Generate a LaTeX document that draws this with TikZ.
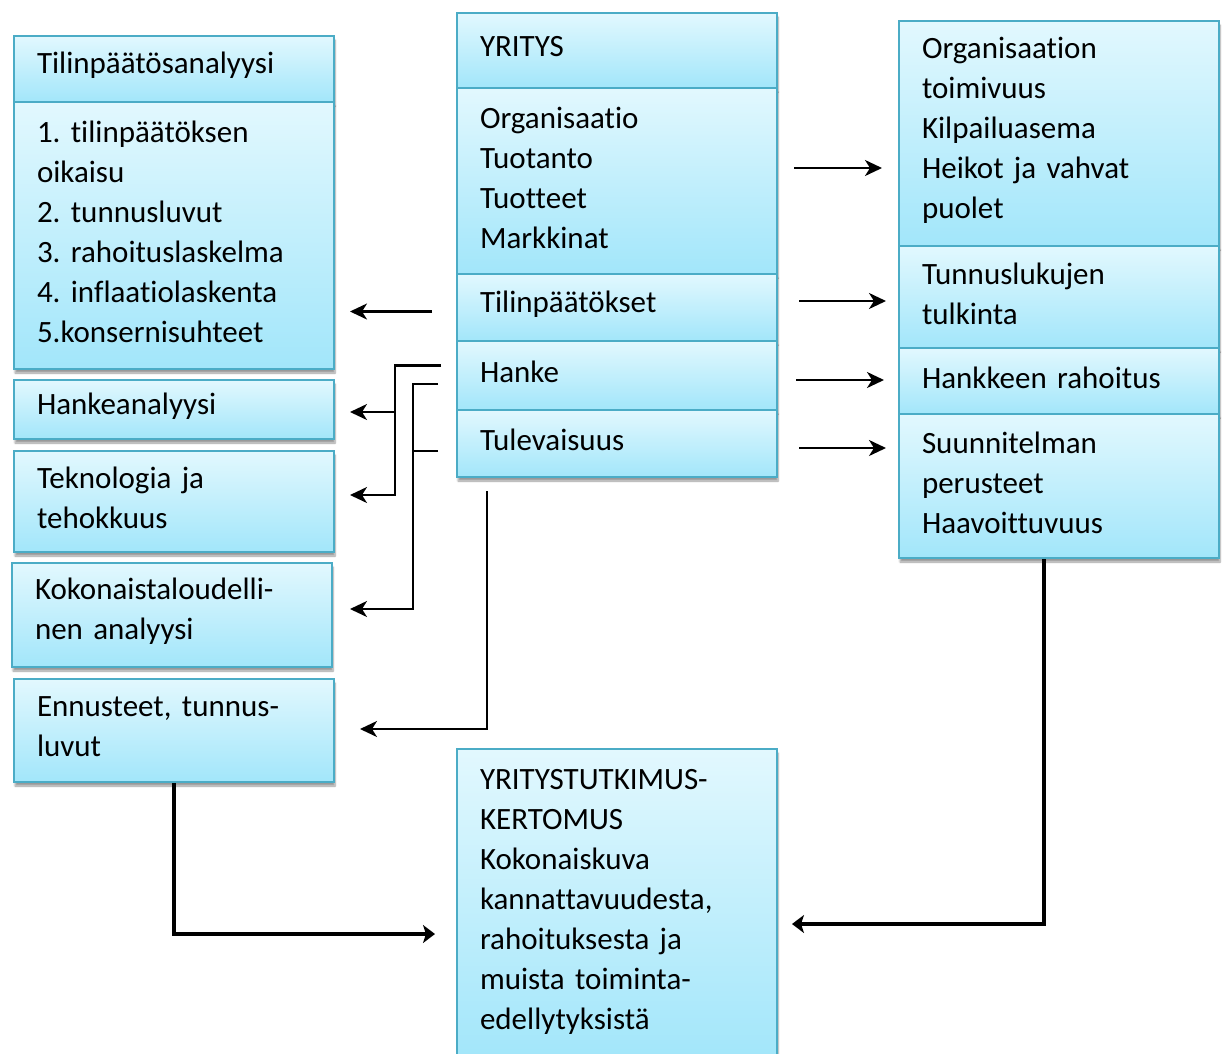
\documentclass[tikz,border=0pt]{standalone}
\usepackage{fontspec}
\setmainfont{Carlito}[Ligatures={NoCommon,TeX}]
\usetikzlibrary{arrows.meta, positioning, shadows.blur}
\definecolor{cellline}{HTML}{4BACC6}
\definecolor{celltop}{HTML}{E2F8FE}
\definecolor{cellbot}{HTML}{A2E6FA}

\begin{document}
\begin{tikzpicture}[
    x=1pt, y=-1pt,
    cell/.style={rectangle, draw=cellline, line width=2pt, top color=celltop, bottom color=cellbot,
      align=left, text width=274pt, inner xsep=23pt, inner ysep=0pt, anchor=north west,
      font=\fontsize{31}{40}\selectfont\frenchspacing,
      execute at end node={\endgraf\kern7pt},
      blur shadow={shadow xshift=1pt, shadow yshift=-4pt, shadow blur steps=6, shadow opacity=40}},
    stack/.style={cell, below=-2pt of #1},
    wire/.style={line width=2.2pt},
    arr/.style={wire, -{Stealth[length=17pt, width=16pt, inset=5pt]}},
    bigarr/.style={line width=4.5pt, -{Stealth[length=12pt, width=18pt, inset=3pt]}}
  ]
  \useasboundingbox (0,0) rectangle (1224,1053);

  % left column
  \node[cell, minimum height=66pt] (tpa) at (13,35) {Tilinpäätösanalyysi};
  \node[stack=tpa, minimum height=267pt] (tpaBody) {1. tilinpäätöksen\\oikaisu\\2. tunnusluvut\\3. rahoituslaskelma\\4. inflaatiolaskenta\\5.konsernisuhteet};
  \node[cell, minimum height=59pt] (hank) at (13,379) {Hankeanalyysi};
  \node[cell, minimum height=101pt] (tek) at (13,450) {Teknologia ja\\tehokkuus};
  \node[cell, minimum height=104pt] (koko) at (11,562) {Kokonaistaloudelli-\\nen analyysi};
  \node[cell, minimum height=103pt] (enn) at (13,678) {Ennusteet, tunnus-\\luvut};

  % YRITYS column
  \node[cell, minimum height=75pt] (yr) at (456,12) {YRITYS};
  \node[stack=yr, minimum height=186pt] (org) {Organisaatio\\Tuotanto\\Tuotteet\\Markkinat};
  \node[stack=org, minimum height=67pt] (tp) {Tilinpäätökset};
  \node[stack=tp, minimum height=69pt] (hanke) {Hanke};
  \node[stack=hanke, minimum height=67pt] (tul) {Tulevaisuus};

  % right column
  \node[cell, minimum height=225pt] (rOrg) at (898,20) {Organisaation\\toimivuus\\Kilpailuasema\\Heikot ja vahvat\\puolet};
  \node[stack=rOrg, minimum height=102pt] (rTun) {Tunnuslukujen\\tulkinta};
  \node[stack=rTun, minimum height=66pt] (rHan) {Hankkeen rahoitus};
  \node[stack=rHan, minimum height=144pt] (rSuu) {Suunnitelman\\perusteet\\Haavoittuvuus};

  % report
  \node[cell, minimum height=312pt] (rep) at (456,748) {YRITYSTUTKIMUS-\\KERTOMUS\\Kokonaiskuva\\kannattavuudesta,\\rahoituksesta ja\\muista toiminta-\\edellytyksistä};

  % arrows to the right
  \coordinate (aOrg) at ([yshift=13pt]org.east);
  \draw[arr, shorten <=16pt, shorten >=16pt] (aOrg) -- (aOrg -| rOrg.west);
  \coordinate (aTp) at ([yshift=6.5pt]tp.east);
  \draw[arr, shorten <=21pt, shorten >=12pt] (aTp) -- (aTp -| rTun.west);
  \coordinate (aHk) at ([yshift=-4.5pt]hanke.east);
  \draw[arr, shorten <=18pt, shorten >=14pt] (aHk) -- (aHk -| rHan.west);
  \coordinate (aTul) at ([yshift=-4.5pt]tul.east);
  \draw[arr, shorten <=21pt, shorten >=12pt] (aTul) -- (aTul -| rSuu.west);

  % arrows to the left
  \coordinate (bTp) at ([yshift=-4pt]tp.west);
  \draw[arr, shorten <=24pt, shorten >=15pt] (bTp) -- (bTp -| tpaBody.east);

  \coordinate (hkOut) at ([xshift=-15pt,yshift=10pt]hanke.west);
  \coordinate (railA) at ([xshift=-46pt]hkOut);
  \coordinate (tekIn) at ([xshift=15pt,yshift=6.5pt]tek.east);
  \coordinate (hankIn) at ([xshift=15pt,yshift=-2.5pt]hank.east);
  \draw[arr] (hkOut) -| (railA |- tekIn) -- (tekIn);
  \draw[arr] (railA |- hankIn) -- (hankIn);

  \coordinate (hkOut2) at ([xshift=-18pt,yshift=-8.5pt]hanke.west);
  \coordinate (railB) at ([xshift=-25pt]hkOut2);
  \coordinate (kokoIn) at ([xshift=17pt,yshift=6pt]koko.east);
  \draw[arr] (hkOut2) -| (railB |- kokoIn) -- (kokoIn);
  \coordinate (tulOut) at ([xshift=-18pt,yshift=-7.5pt]tul.west);
  \draw[wire] (tulOut) -- (tulOut -| railB);

  \coordinate (tulDown) at ([xshift=31pt,yshift=-13pt]tul.south west);
  \coordinate (ennIn) at ([xshift=25pt,yshift=1.5pt]enn.east);
  \draw[arr] (tulDown) |- (ennIn);

  % into the report
  \coordinate (repInL) at ([xshift=-21pt,yshift=-29pt]rep.west);
  \draw[bigarr] (enn.south) |- (repInL);
  \coordinate (suuOut) at ([xshift=-15pt]rSuu.south);
  \coordinate (repInR) at ([xshift=14pt,yshift=-19pt]rep.east);
  \draw[bigarr] (suuOut) |- (repInR);
\end{tikzpicture}
\end{document}
